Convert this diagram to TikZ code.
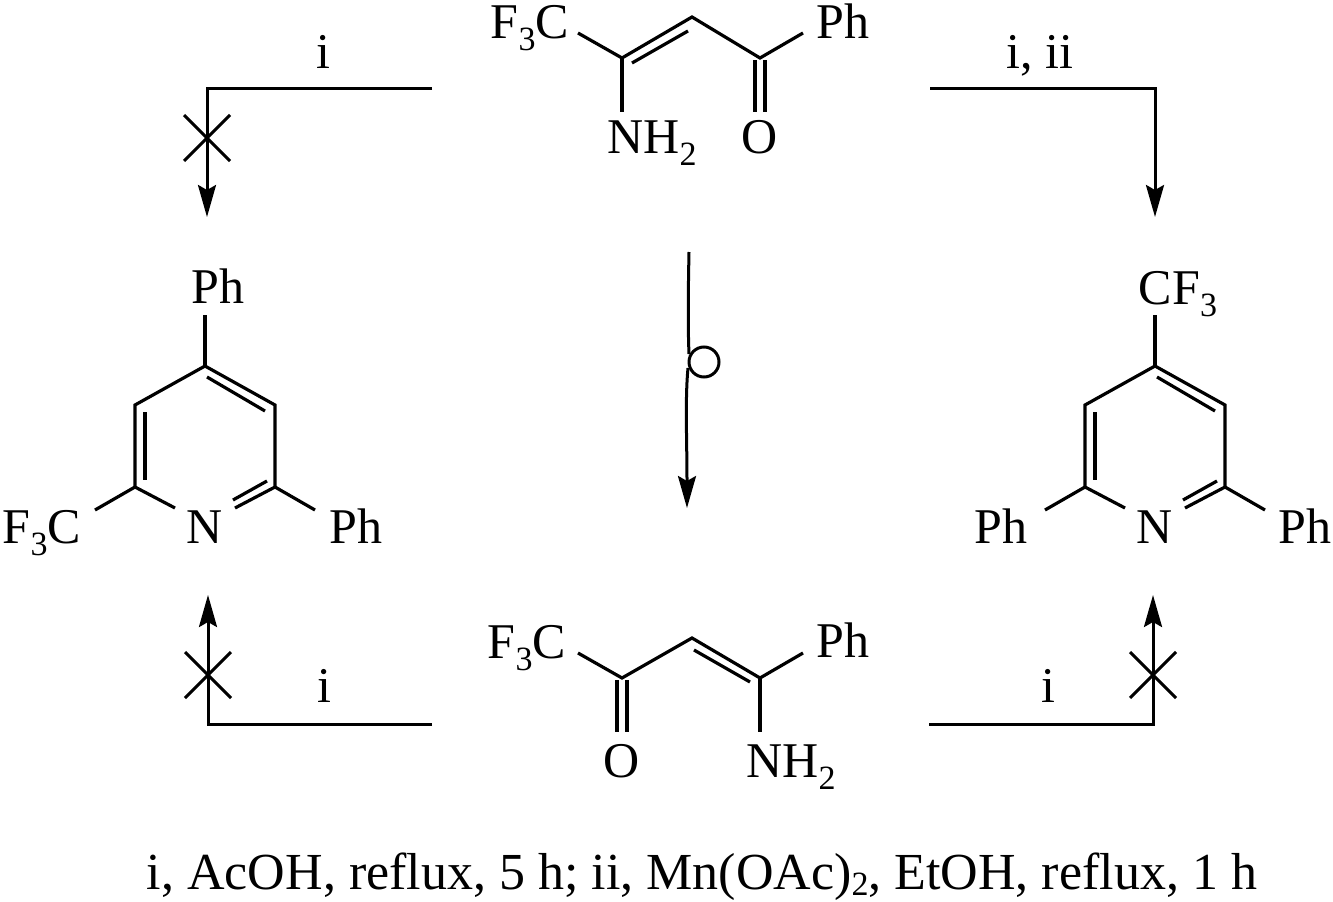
\documentclass[tikz,border=0pt]{standalone}
\usepackage{fontspec}
\setmainfont{Liberation Serif}
\usetikzlibrary{arrows.meta}
\newcommand\csub[1]{\raisebox{-12pt}{\fontsize{34}{34}\selectfont #1}}
\newcommand\capsub[1]{\raisebox{-6pt}{\fontsize{34}{34}\selectfont #1}}
\begin{document}
\begin{tikzpicture}[x=1pt,y=-1pt,
  bond/.style={line width=3.2pt,line cap=butt,line join=miter},
  conn/.style={line width=3pt,line join=miter},
  arr/.style={conn,-{Stealth[length=32pt,width=18pt,inset=5pt]}},
  lbl/.style={inner sep=0pt,anchor=base,font=\fontsize{50}{60}\selectfont}]
\useasboundingbox (0,0) rectangle (1333,902);

% ---------- top enaminone ----------
\node[lbl] (tF) at (530,38) {F\csub{3}C};
\node[lbl] (tPh) at (843,38) {Ph};
\node[lbl] (tN) at (652,153) {NH\csub{2}};
\node[lbl] (tO) at (760,153) {O};
\coordinate (tC1) at (622,58);
\coordinate (tC2) at (692,17);
\coordinate (tC3) at (760,58);
\coordinate (tFe) at (578,33);
\coordinate (tPe) at (803,33);
\coordinate (tNe) at (622,112);
\draw[bond] (tFe) -- (tC1) -- (tC2) -- (tC3) -- (tPe);
\draw[bond] (tC1) -- (tNe);
\draw[bond] (632,63) -- (688,31);
\draw[bond] (755,60) -- (755,112);
\draw[bond] (765,60) -- (765,112);

% ---------- bottom enaminone ----------
\node[lbl] (bF) at (527,658) {F\csub{3}C};
\node[lbl] (bPh) at (843,657) {Ph};
\node[lbl] (bO) at (622,777) {O};
\node[lbl] (bN) at (791,777) {NH\csub{2}};
\coordinate (bC1) at (622,678);
\coordinate (bC2) at (692,638);
\coordinate (bC3) at (760,678);
\coordinate (bFe) at (578,653);
\coordinate (bPe) at (803,653);
\coordinate (bNe) at (760,732);
\draw[bond] (bFe) -- (bC1) -- (bC2) -- (bC3) -- (bPe);
\draw[bond] (bC3) -- (bNe);
\draw[bond] (694,650) -- (750,682);
\draw[bond] (617,680) -- (617,732);
\draw[bond] (627,680) -- (627,732);

% ---------- pyridines ----------
\foreach \dx/\p in {0/L,950/R}{
  \coordinate (\p4) at (205+\dx,366);
  \coordinate (\p3) at (135+\dx,405);
  \coordinate (\p2) at (135+\dx,487);
  \coordinate (\p6) at (275+\dx,487);
  \coordinate (\p5) at (275+\dx,405);
  \coordinate (\p Na) at (175+\dx,508);
  \coordinate (\p Nb) at (235+\dx,508);
  \coordinate (\p Te) at (205+\dx,315);
  \coordinate (\p Le) at (95+\dx,510);
  \coordinate (\p Re) at (315+\dx,510);
  \draw[bond] (\p Na) -- (\p2) -- (\p3) -- (\p4) -- (\p5) -- (\p6) -- (\p Nb);
  \draw[bond] (\p4) -- (\p Te);
  \draw[bond] (\p2) -- (\p Le);
  \draw[bond] (\p6) -- (\p Re);
  \draw[bond] (207+\dx,377) -- (265+\dx,411);
  \draw[bond] (145+\dx,412) -- (145+\dx,480);
  \draw[bond] (233+\dx,500) -- (267+\dx,481);
}
\node[lbl] (LPh4) at (218,303) {Ph};
\node[lbl] (LCF) at (42,543) {F\csub{3}C};
\node[lbl] (LN) at (205,543) {N};
\node[lbl] (LPh6) at (356,543) {Ph};
\node[lbl] (RCF) at (1178,304) {CF\csub{3}};
\node[lbl] (RPh2) at (1001,543) {Ph};
\node[lbl] (RN) at (1155,543) {N};
\node[lbl] (RPh6) at (1305,543) {Ph};

% ---------- reaction arrows ----------
\coordinate (a1s) at (432,88);
\coordinate (a1c) at (207,88);
\coordinate (a1e) at (207,217);
\draw[arr] (a1s) -- (a1c) -- (a1e);
\draw[conn] (184,115) -- (230,161);
\draw[conn] (184,161) -- (230,115);
\node[lbl] (l1) at (323,68) {i};

\coordinate (a2s) at (930,88);
\coordinate (a2c) at (1155,88);
\coordinate (a2e) at (1155,217);
\draw[arr] (a2s) -- (a2c) -- (a2e);
\node[lbl] (l2) at (1040,68) {i, ii};

\coordinate (a3s) at (432,724);
\coordinate (a3c) at (208,724);
\coordinate (a3e) at (208,595);
\draw[arr] (a3s) -- (a3c) -- (a3e);
\draw[conn] (185,652) -- (231,698);
\draw[conn] (185,698) -- (231,652);
\node[lbl] (l3) at (324,702) {i};

\coordinate (a4s) at (929,724);
\coordinate (a4c) at (1153,724);
\coordinate (a4e) at (1153,595);
\draw[arr] (a4s) -- (a4c) -- (a4e);
\draw[conn] (1130,652) -- (1176,698);
\draw[conn] (1130,698) -- (1176,652);
\node[lbl] (l4) at (1048,702) {i};

% ---------- isomerisation arrow ----------
\coordinate (m1) at (689,252);
\coordinate (m2) at (689,354);
\coordinate (m3) at (688,368);
\coordinate (m4) at (687,508);
\draw[conn] (m1) .. controls (688,300) and (688,330) .. (m2);
\draw[conn] (704,362) circle (15);
\draw[arr] (m3) .. controls (685,400) and (687,440) .. (m4);

% ---------- caption ----------
\node[lbl,font=\fontsize{52}{60}\selectfont] (cap) at (702,889) {i, AcOH, reflux, 5 h; ii, Mn(OAc)\capsub{2}, EtOH, reflux, 1 h};
\end{tikzpicture}
\end{document}
